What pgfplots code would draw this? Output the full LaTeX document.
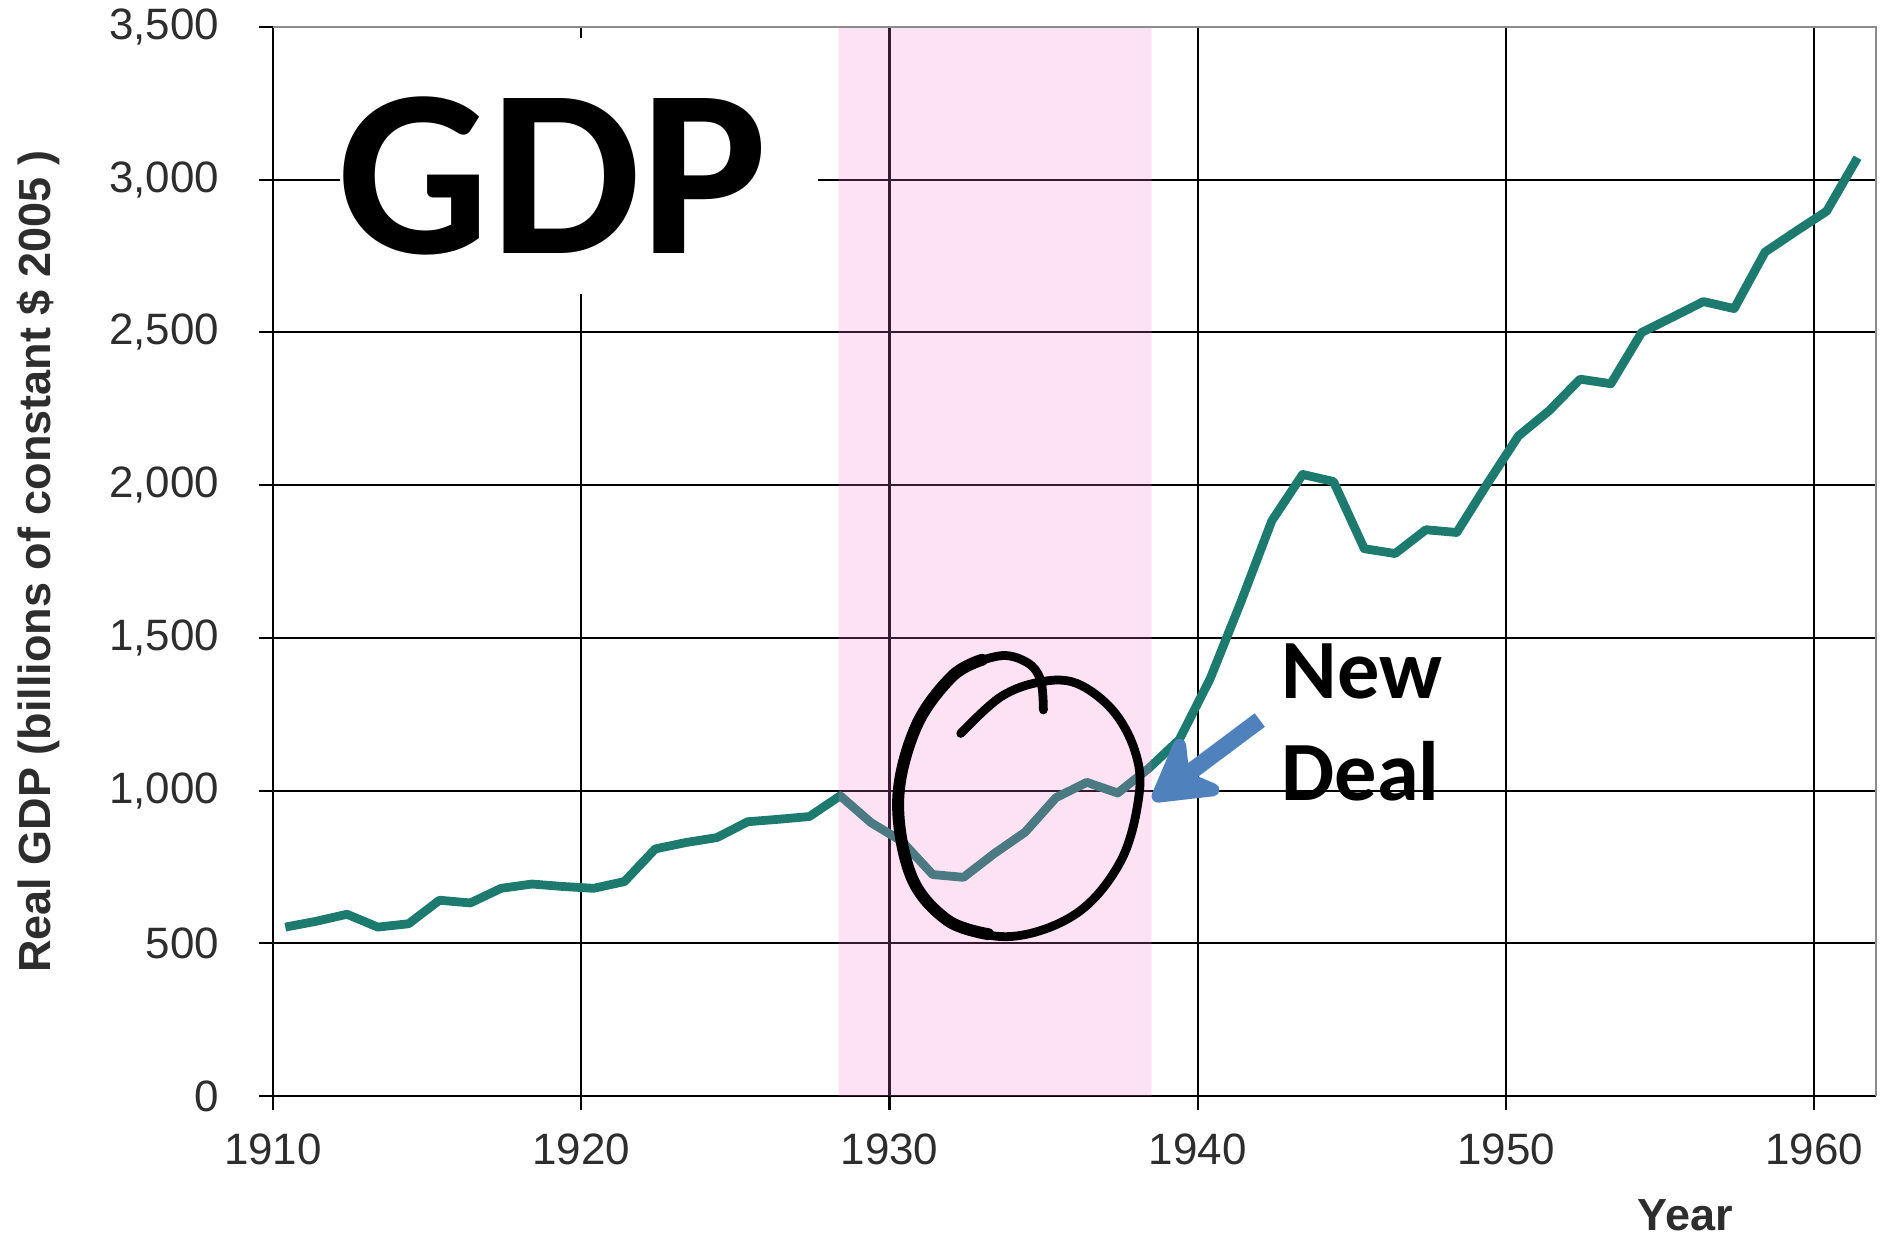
\documentclass[border=0pt]{standalone}
\usepackage{fontspec}
\setmainfont{Liberation Sans}
\newfontfamily\calibri{Carlito}
\usepackage{pgfplots}
\pgfplotsset{compat=1.18}
\usetikzlibrary{arrows.meta}
\definecolor{gdpteal}{RGB}{28,122,110}
\definecolor{bandpink}{RGB}{248,122,206}
\definecolor{arrowblue}{RGB}{79,129,189}
\definecolor{ticktext}{RGB}{45,45,45}
\begin{document}
\begin{tikzpicture}
\begin{axis}[
  scale only axis,
  width=160.3mm, height=106.9mm,
  xmin=1910, xmax=1962, ymin=0, ymax=3500,
  axis lines*=left,
  axis line style={black, line width=0.6pt},
  xtick={1910,1920,1930,1940,1950,1960},
  ytick={0,500,1000,1500,2000,2500,3000,3500},
  grid=major,
  major grid style={black, line width=0.6pt},
  tick align=center,
  major tick length=2.8mm,
  tick style={black, line width=0.6pt},
  clip=false,
  /pgf/number format/assume math mode=true,
  yticklabel style={font=\fontsize{12.5}{14}\selectfont, text=ticktext, inner sep=0pt, anchor=east, xshift=-3.9mm,
    /pgf/number format/1000 sep={,}},
  xticklabel style={font=\fontsize{12.5}{14}\selectfont, text=ticktext, inner sep=0pt, anchor=north, yshift=-2.3mm,
    /pgf/number format/1000 sep={}},
  ylabel={Real GDP (billions of constant \$ 2005 )},
  ylabel style={font=\bfseries\fontsize{12.8}{14}\selectfont, text=ticktext, at={(axis description cs:-0.1465,0.5)}, rotate=0, anchor=center},
  xlabel={Year},
  xlabel style={font=\bfseries\fontsize{12.8}{14}\selectfont, text=ticktext, at={(axis description cs:0.881,-0.126)}, anchor=base},
]
% GDP series (billions of constant 2005 dollars), years 1911-1962
\addplot[gdpteal, line width=2.5pt, line join=round] coordinates {
(1910.4,553) (1911.4,572) (1912.4,595) (1913.4,553) (1914.4,564)
(1915.4,641) (1916.4,632) (1917.4,680) (1918.4,694) (1919.4,686)
(1920.4,680) (1921.4,702) (1922.4,809) (1923.4,830) (1924.4,846)
(1925.4,898) (1926.4,906) (1927.4,915) (1928.4,983) (1929.4,895)
(1930.4,834) (1931.4,725) (1932.4,716) (1933.4,794) (1934.4,864)
(1935.4,977) (1936.4,1027) (1937.4,992) (1938.4,1072) (1939.4,1167)
(1940.4,1366) (1941.4,1618) (1942.4,1883) (1943.4,2035) (1944.4,2012)
(1945.4,1792) (1946.4,1776) (1947.4,1854) (1948.4,1845) (1949.4,2006)
(1950.4,2161) (1951.4,2244) (1952.4,2347) (1953.4,2332) (1954.4,2500)
(1955.4,2550) (1956.4,2601) (1957.4,2578) (1958.4,2763) (1959.4,2831)
(1960.4,2897) (1961.4,3072)
};
% shaded Depression band
\addplot[draw=none, fill=bandpink, fill opacity=0.22] coordinates {
(1928.35,0) (1928.35,3500) (1938.5,3500) (1938.5,0)} \closedcycle;
% top and right frame
\draw[gray!90, line width=0.6pt] (rel axis cs:0,1) -- (rel axis cs:1,1) -- (rel axis cs:1,0);
% white box with GDP title
\fill[white] (axis cs:1912.17,3465) rectangle (axis cs:1927.68,2626);
\node[anchor=base west, inner sep=0pt, font=\calibri\bfseries\fontsize{68}{80}\selectfont] at (axis cs:1912.08,2760) {GDP};
% hand-drawn circle
\draw[black, line width=2.5pt, line cap=round, line join=round]
  plot[smooth, tension=0.6] coordinates {
  (1932.31,1187) (1933.61,1307) (1934.91,1356) (1936.07,1351) (1937.23,1264)
  (1937.95,1133) (1938.10,991) (1937.52,773) (1936.07,598) (1933.90,522)
  (1931.87,576) (1930.71,718) (1930.28,969) (1930.86,1209) (1932.02,1373)
  (1933.50,1440) (1934.45,1420) (1934.90,1362) (1934.99,1264)};
\draw[black, line width=3.4pt, line cap=round]
  plot[smooth, tension=0.6] coordinates {
  (1933.2,530) (1931.87,576) (1930.71,718) (1930.28,969) (1930.86,1209) (1932.02,1373) (1933.0,1428)};
% arrow
\draw[arrowblue, line width=4.8pt, -{Stealth[length=7.8mm, width=9mm, inset=2.6mm, round]}]
  (axis cs:1942.01,1231) -- (axis cs:1938.54,969);
% New Deal text
\node[anchor=base west, inner sep=0pt, font=\calibri\bfseries\fontsize{24}{28}\selectfont] at (axis cs:1942.70,1303) {New};
\node[anchor=base west, inner sep=0pt, font=\calibri\bfseries\fontsize{24}{28}\selectfont] at (axis cs:1942.70,969) {Deal};
\coordinate (sw) at (rel axis cs:0,0);
\end{axis}
\pgfresetboundingbox
\path (sw) ++(-27.3mm,-15.1mm) rectangle ++(188.3mm,124.7mm);
\end{tikzpicture}
\end{document}
